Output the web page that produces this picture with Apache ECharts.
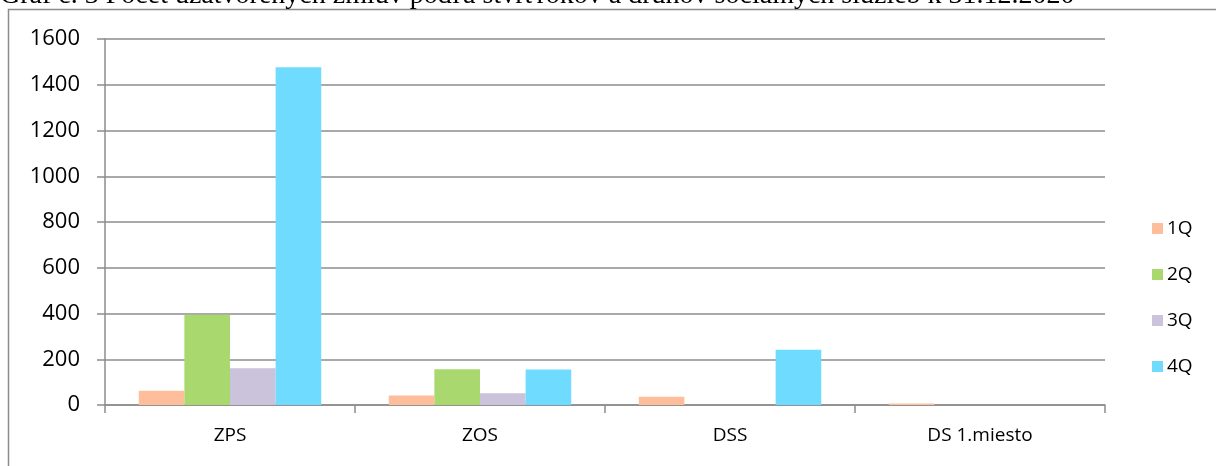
<!DOCTYPE html>
<html>
<head>
<meta charset="utf-8">
<script src="https://cdn.jsdelivr.net/npm/echarts@6/dist/echarts.min.js"></script>
<style>
html,body{margin:0;padding:0;background:#fff;}
#c{width:1216px;height:466px;}
</style>
</head>
<body>
<div id="c"></div>
<script>
const categories = ['ZPS', 'ZOS', 'DSS', 'DS 1.miesto'];
const seriesNames = ['1Q', '2Q', '3Q', '4Q'];
const q1 = [62, 41, 36, 7];
const q2 = [395, 156, 0, 0];
const q3 = [161, 51, 0, 0];
const q4 = [1476, 155, 241, 0];
const yTicks = [0, 200, 400, 600, 800, 1000, 1200, 1400, 1600];
const colors = ['#FFBE9B', '#A9D86E', '#CBC2DB', '#6FDBFF'];
const titleText = 'Graf č. 3 Počet uzatvorených zmlúv podľa štvrťrokov a druhov sociálnych služieb k 31.12.2020';

const values = [q1, q2, q3, q4];
const chart = echarts.init(document.getElementById('c'), null, {renderer: 'canvas'});
const gray = '#8c8c8c';
const font = '"Open Sans", "Liberation Sans", sans-serif';

chart.setOption({
  animation: false,
  backgroundColor: '#fff',
  graphic: [
    {type: 'rect', shape: {x: 8.5, y: 9.5, width: 1400, height: 700},
     style: {fill: 'none', stroke: gray, lineWidth: 1.5}, z: 0},
    {type: 'text', x: 0, y: 10,
     style: {text: titleText, font: '28px "Liberation Serif", "DejaVu Serif", serif',
             fill: '#000', verticalAlign: 'bottom', align: 'left'}}
  ],
  grid: {left: 105, right: 111, top: 39, bottom: 61, containLabel: false},
  legend: {
    orient: 'vertical', left: 1147, top: 213,
    itemWidth: 11, itemHeight: 11, itemGap: 25,
    icon: 'rect',
    data: seriesNames,
    textStyle: {fontFamily: font, fontSize: 19, color: '#000', lineHeight: 21, padding: [0, 0, 0, -1]}
  },
  xAxis: {
    type: 'category', data: categories,
    axisLine: {show: true, lineStyle: {color: gray, width: 1.5}},
    axisTick: {show: true, alignWithLabel: false, length: 8, lineStyle: {color: gray, width: 1.5}},
    axisLabel: {fontFamily: font, fontSize: 19, color: '#000', margin: 21}
  },
  yAxis: {
    type: 'value', min: yTicks[0], max: yTicks[yTicks.length - 1], interval: yTicks[1] - yTicks[0],
    axisLine: {show: true, lineStyle: {color: gray, width: 1.5}},
    axisTick: {show: true, length: 8, lineStyle: {color: gray, width: 1.5}},
    splitLine: {show: true, lineStyle: {color: gray, width: 1.5}},
    axisLabel: {fontFamily: font, fontSize: 22, color: '#000', margin: 25,
                formatter: v => String(v)}
  },
  series: seriesNames.map((n, i) => ({
    name: n, type: 'bar', data: values[i],
    barGap: '0%', barCategoryGap: '27%',
    itemStyle: {color: colors[i]}
  }))
});
</script>
</body>
</html>
